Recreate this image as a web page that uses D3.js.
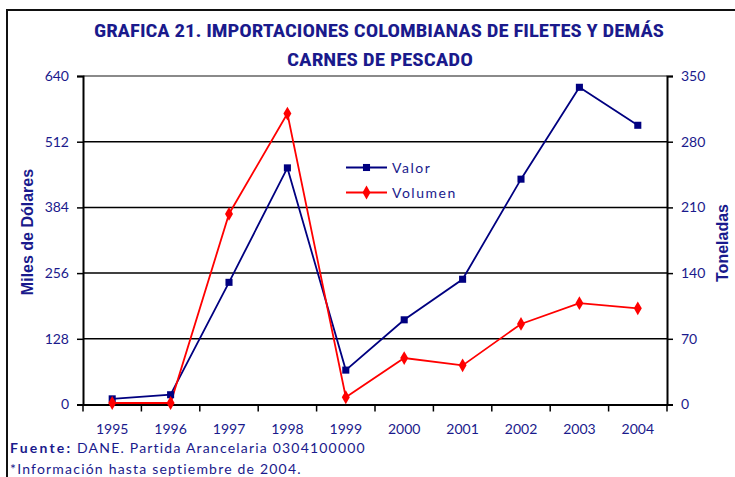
<!DOCTYPE html>
<html><head><meta charset="utf-8">
<script src="https://cdn.jsdelivr.net/npm/d3@7"></script>
<style>
body{margin:0;background:#fff;}
svg text{font-family:Lato,"Open Sans",sans-serif;}
</style></head>
<body><svg id="c" width="735" height="477"></svg>
<script>
const years = ["1995","1996","1997","1998","1999","2000","2001","2002","2003","2004"];
const valor = [11, 19, 238, 461, 67, 165, 244, 439, 618, 544];
const volumen = [1.6, 1.6, 203, 310, 7.7, 49.5, 41.7, 85.8, 108, 102.5];
const leftTicks = [0, 128, 256, 384, 512, 640];
const rightTicks = [0, 70, 140, 210, 280, 350];

const navy = "#1a1a8c";
const svg = d3.select("#c");
const m = {l: 83, r: 667, t: 76, b: 404.5};

const x = d3.scaleBand().domain(years).range([m.l, m.r]);
const yL = d3.scaleLinear().domain([0, 640]).range([m.b, m.t]);
const yR = d3.scaleLinear().domain([0, 350]).range([m.b, m.t]);

// outer frame
svg.append("rect").attr("x", 7).attr("y", 10).attr("width", 740).attr("height", 480)
  .attr("fill", "none").attr("stroke", "#111").attr("stroke-width", 2);

// title
const tFont = "'Liberation Sans Narrow','Roboto Condensed','Liberation Sans',sans-serif";
svg.append("text").attr("x", 94).attr("y", 37).attr("textLength", 570).attr("lengthAdjust", "spacingAndGlyphs")
  .attr("fill", navy).attr("font-weight", "bold").attr("font-size", 18).style("font-family", tFont)
  .text("GRAFICA 21. IMPORTACIONES COLOMBIANAS DE FILETES Y DEMÁS");
svg.append("text").attr("x", 287).attr("y", 66).attr("textLength", 186).attr("lengthAdjust", "spacingAndGlyphs")
  .attr("fill", navy).attr("font-weight", "bold").attr("font-size", 18).style("font-family", tFont)
  .text("CARNES DE PESCADO");

// gridlines
svg.append("g").selectAll("line").data(leftTicks.filter(d => d > 0)).join("line")
  .attr("x1", m.l).attr("x2", m.r).attr("y1", d => yL(d)).attr("y2", d => yL(d))
  .attr("stroke", d => d === 640 ? "#8a8a8a" : "#000").attr("stroke-width", d => d === 640 ? 2 : 1.5);

// left axis
const gl = svg.append("g").attr("transform", `translate(${m.l},0)`)
  .call(d3.axisLeft(yL).tickValues(leftTicks).tickSize(6).tickPadding(8));
gl.select(".domain").attr("stroke", "#000").attr("stroke-width", 2);
gl.selectAll(".tick line").attr("stroke", "#000").attr("stroke-width", 1.5);
gl.selectAll("text").attr("fill", navy).attr("font-size", 14).style("font-family", "Lato,sans-serif");

// right axis
const gr = svg.append("g").attr("transform", `translate(${m.r},0)`)
  .call(d3.axisRight(yR).tickValues(rightTicks).tickSize(6).tickPadding(8));
gr.select(".domain").attr("stroke", "#000").attr("stroke-width", 2);
gr.selectAll(".tick line").attr("stroke", "#000").attr("stroke-width", 1.5);
gr.selectAll("text").attr("fill", navy).attr("font-size", 14).style("font-family", "Lato,sans-serif");

// bottom axis
const gb = svg.append("g").attr("transform", `translate(0,${m.b})`)
  .call(d3.axisBottom(x).tickSize(0).tickPadding(20));
gb.select(".domain").attr("stroke", "#000").attr("stroke-width", 2);
gb.selectAll("text").attr("fill", navy).attr("font-size", 14).style("font-family", "Lato,sans-serif");
const bounds = years.map(d => x(d)).concat([x(years[years.length - 1]) + x.bandwidth()]);
gb.append("g").selectAll("line").data(bounds).join("line")
  .attr("x1", d => d).attr("x2", d => d).attr("y1", 0).attr("y2", 7)
  .attr("stroke", "#000").attr("stroke-width", 1.5);

// axis titles
svg.append("text").attr("transform", "translate(33,232) rotate(-90)")
  .attr("text-anchor", "middle").attr("fill", navy).attr("font-weight", "bold").attr("font-size", 16)
  .style("font-family", "'Liberation Sans',Arial,sans-serif").text("Miles de Dólares");
svg.append("text").attr("transform", "translate(728,243) rotate(-90)")
  .attr("text-anchor", "middle").attr("fill", navy).attr("font-weight", "bold").attr("font-size", 16)
  .style("font-family", "'Liberation Sans',Arial,sans-serif").text("Toneladas");

const cx = d => x(d) + x.bandwidth() / 2;

// lines
svg.append("path").datum(valor)
  .attr("d", d3.line().x((d, i) => cx(years[i])).y(d => yL(d)))
  .attr("fill", "none").attr("stroke", "#000080").attr("stroke-width", 1.8);
svg.append("path").datum(volumen)
  .attr("d", d3.line().x((d, i) => cx(years[i])).y(d => yR(d)))
  .attr("fill", "none").attr("stroke", "#ff0000").attr("stroke-width", 1.8);

const sq = d3.symbol().type(d3.symbolSquare).size(50);
const di = d3.symbol().type(d3.symbolDiamond).size(55);
svg.append("g").selectAll("path").data(valor).join("path")
  .attr("transform", (d, i) => `translate(${cx(years[i])},${yL(d)})`)
  .attr("d", sq).attr("fill", "#000080");
svg.append("g").selectAll("path").data(volumen).join("path")
  .attr("transform", (d, i) => `translate(${cx(years[i])},${yR(d)})`)
  .attr("d", di).attr("fill", "#ff0000");

// legend
const leg = [{n: "Valor", c: "#000080", s: sq, y: 167.5}, {n: "Volumen", c: "#ff0000", s: di, y: 192.5}];
const lg = svg.append("g");
leg.forEach(l => {
  lg.append("line").attr("x1", 346).attr("x2", 387).attr("y1", l.y).attr("y2", l.y)
    .attr("stroke", l.c).attr("stroke-width", 1.8);
  lg.append("path").attr("transform", `translate(366.5,${l.y})`).attr("d", l.s).attr("fill", l.c);
  lg.append("text").attr("x", 392).attr("y", l.y + 5).attr("fill", navy).attr("font-size", 14)
    .style("letter-spacing", "1.5px").text(l.n);
});

// footer
const f1 = svg.append("text").attr("x", 10).attr("y", 453).attr("fill", navy).attr("font-size", 14)
  .style("letter-spacing", "1.2px");
f1.append("tspan").attr("font-weight", "bold").style("letter-spacing", "2.2px").text("Fuente:");
f1.append("tspan").text(" DANE. Partida Arancelaria 0304100000");
svg.append("text").attr("x", 10).attr("y", 474).attr("fill", navy).attr("font-size", 14)
  .style("letter-spacing", "1.2px").text("*Información hasta septiembre de 2004.");
</script></body></html>
